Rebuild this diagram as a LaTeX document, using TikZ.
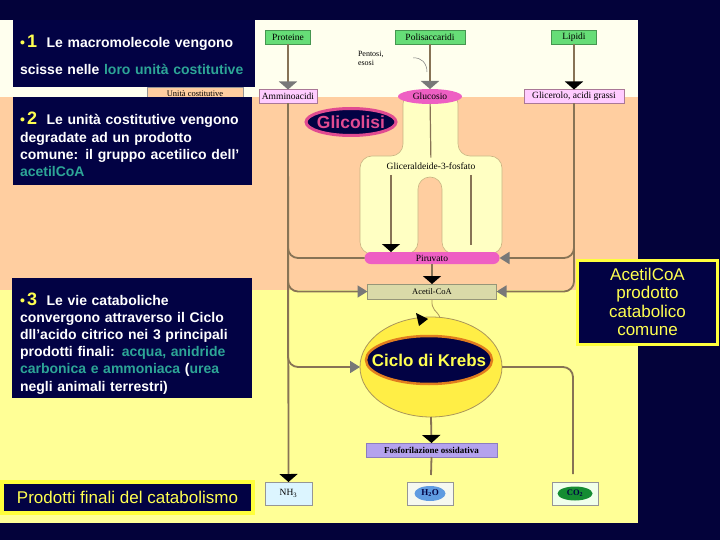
\documentclass[tikz,border=0pt]{standalone}
\usepackage{fontspec}
\setmainfont{Liberation Sans}
\newfontfamily\serifont{Liberation Serif}
\usetikzlibrary{arrows.meta,shapes.geometric}
\definecolor{navy}{RGB}{3,2,58}
\definecolor{boxnavy}{RGB}{2,2,68}
\definecolor{creamc}{RGB}{255,255,238}
\definecolor{peachc}{RGB}{255,206,160}
\definecolor{yellowc}{RGB}{255,255,150}
\definecolor{tealc}{RGB}{45,165,150}
\definecolor{txtyel}{RGB}{255,255,80}
\definecolor{prodyel}{RGB}{255,255,60}
\definecolor{linec}{RGB}{135,115,85}
\definecolor{arrgray}{RGB}{120,120,120}
\definecolor{greenc}{RGB}{102,221,119}
\definecolor{greendk}{RGB}{70,150,80}
\definecolor{pinkbox}{RGB}{255,204,255}
\definecolor{pinkdk}{RGB}{170,120,150}
\definecolor{magentac}{RGB}{238,95,195}
\definecolor{tubec}{RGB}{255,255,195}
\definecolor{tubeline}{RGB}{200,180,130}
\definecolor{khakic}{RGB}{218,218,168}
\definecolor{khakidk}{RGB}{150,150,120}
\definecolor{lavc}{RGB}{180,162,238}
\definecolor{lavdk}{RGB}{140,125,190}
\definecolor{krebsc}{RGB}{255,238,70}
\definecolor{krebsline}{RGB}{170,150,90}
\definecolor{orangec}{RGB}{225,125,30}
\definecolor{glicpink}{RGB}{225,75,145}
\definecolor{boxline}{RGB}{150,150,150}
\definecolor{nh3c}{RGB}{220,245,255}
\definecolor{h2oc}{RGB}{246,248,240}
\definecolor{cloudc}{RGB}{95,155,225}
\definecolor{co2bc}{RGB}{240,255,235}
\definecolor{co2c}{RGB}{20,140,50}

\begin{document}
\begin{tikzpicture}[x=1pt,y=-1pt,
	every node/.style={inner sep=0,outer sep=0},
	bigbox/.style={fill=boxnavy,anchor=north west},
	btext/.style={text=white,font=\bfseries\fontsize{14}{17.2}\selectfont,
		text width=235pt,align=left,anchor=base west},
	lbl/.style={font=\serifont\fontsize{9.5}{11}\selectfont},
	flow/.style={draw=linec,line width=1.8pt},
	downblk/.style={flow,-{Triangle[width=18pt,length=8pt,color=black]}},
	downgry/.style={flow,-{Triangle[width=18pt,length=8pt,color=arrgray]}},
	sidegry/.style={flow,rounded corners=10pt,-{Triangle[width=12pt,length=10pt,color=arrgray]}},
	endbox/.style={draw=boxline,fill=#1,minimum width=46pt,minimum height=23pt}]
\useasboundingbox (0,0) rectangle (720,540);
% backgrounds
\fill[navy] (0,0) rectangle (720,540);
\fill[creamc] (0,20) rectangle (638,97);
\fill[peachc] (0,97) rectangle (638,290);
\fill[yellowc] (0,290) rectangle (638,523);
\filldraw[fill=tubec,draw=tubeline,line width=0.6pt,rounded corners=12pt]
	(403,92) -- (403,156) -- (360,156) -- (360,254) -- (418,254) -- (418,177)
	-- (442,177) -- (442,254) -- (502,254) -- (502,156) -- (458,156) -- (458,92) -- cycle;

% diagram
\node[lbl,draw=greendk,fill=greenc,minimum width=45pt,minimum height=14pt] (prot) at (288,37) {Proteine};
\node[lbl,draw=greendk,fill=greenc,minimum width=70pt,minimum height=14pt] (polis) at (430,37) {Polisaccaridi};
\node[lbl,draw=greendk,fill=greenc,minimum width=45pt,minimum height=14pt] (lipidi) at (574,37) {Lipidi};
\node[lbl,draw=pinkdk,fill=pinkbox,minimum width=58pt,minimum height=14pt] (ammino) at (288,96.5) {Amminoacidi};
\node[lbl,ellipse,fill=magentac,minimum width=64pt,minimum height=15pt] (gluc) at (430,96.5) {Glucosio};
\node[lbl,draw=pinkdk,fill=pinkbox,minimum width=100pt,minimum height=14pt] (glic) at (574,96.5) {Glicerolo, acidi grassi};
\node[font=\serifont\fontsize{8}{8.5}\selectfont,text width=30pt,align=left,anchor=base west] (pentosi) at (358,57) {Pentosi,\\esosi};
\draw[arrgray,line width=0.5pt] (413,58) .. controls (421,57) and (427,63) .. (427,72);
\node[lbl,draw=boxline,fill=peachc,minimum width=96pt,minimum height=13pt,anchor=north west] (unita) at (147,87) {\fontsize{8.5}{10}\selectfont Unità costitutive};

\node[lbl,inner ysep=5pt] (g3p) at (431,166) {Gliceraldeide-3-fosfato};
\node[lbl,fill=magentac,rounded corners=6pt,minimum width=135pt,minimum height=12pt] (piru) at (432,258) {Piruvato};
\node[lbl,draw=khakidk,fill=khakic,minimum width=129pt,minimum height=15pt] (acoa) at (432,291.5) {\fontsize{8.5}{10}\selectfont Acetil-CoA};
\node[ellipse,draw=krebsline,line width=0.8pt,fill=krebsc,minimum width=142pt,minimum height=100pt] (kout) at (431,367) {};
\node[ellipse,draw=orangec,line width=2.5pt,fill=boxnavy,minimum width=126pt,minimum height=48pt] (krebs) at (429,360) {};
\node[text=txtyel,font=\bfseries\fontsize{17}{20}\selectfont] (krebslbl) at (krebs) {Ciclo di Krebs};
\node[font=\serifont\bfseries\fontsize{9}{10}\selectfont,draw=lavdk,fill=lavc,minimum width=131pt,minimum height=14pt] (fosfo) at (431.5,450) {Fosforilazione ossidativa};
\node[lbl,endbox=nh3c,minimum width=47pt] (nh3) at (288.5,493.5) {NH\textsubscript{3}};
\node[endbox=h2oc] (h2o) at (430,493.5) {};
\node[ellipse,fill=cloudc,minimum width=31pt,minimum height=15pt,font=\serifont\bfseries\fontsize{9}{10}\selectfont,text=boxnavy] (h2ob) at (h2o) {H\textsubscript{2}O};
\node[endbox=co2bc] (co2) at (575,493.5) {};
\node[ellipse,fill=co2c,minimum width=35pt,minimum height=14pt,font=\serifont\bfseries\fontsize{8.5}{10}\selectfont,text=boxnavy] (co2b) at (co2) {CO\textsubscript{2}};

\coordinate (legL) at (391,175);
\coordinate (legR) at (471,175);
\coordinate (legRend) at (471,245);
\coordinate (co2end) at (573,474);
\coordinate (h2oend) at (431,475);
\draw[downgry] (prot) -- (ammino);
\draw[downgry] (polis) -- (gluc);
\draw[downblk] (lipidi) -- (glic);
\draw[flow,line width=1.2pt] (gluc) -- (g3p);
\draw[downblk,line width=1.2pt] (legL) -- (legL |- piru.north);
\draw[flow,line width=1.2pt] (legR) -- (legRend);
\draw[downblk] (piru) -- (acoa);
\draw[krebsline,line width=0.8pt] (acoa.south) .. controls (431,311) and (437,310) .. (440,317.5);
\fill (416,313) -- (428,319) -- (419,326) -- cycle;
\draw[flow,rounded corners=10pt] (ammino.south) |- (piru.west);
\draw[sidegry] (ammino.south) |- (acoa.west);
\draw[sidegry] (ammino.south) |- (kout.west);
\draw[downblk] (ammino.south) -- (nh3.north);
\draw[sidegry] (glic.south) |- (piru.east);
\draw[sidegry] (glic.south) |- (acoa.east);
\draw[flow,rounded corners=10pt] (kout.east) -| (co2end);
\draw[downblk] (kout.south) -- (fosfo.north);
\draw[flow] (fosfo.south) -- (h2oend);

\node[ellipse,draw=glicpink,line width=3pt,fill=boxnavy,minimum width=90pt,minimum height=27pt] (glicol) at (351,122) {};
\node[text=glicpink,font=\bfseries\fontsize{17.5}{20}\selectfont] (glicollbl) at (glicol) {Glicolisi};

% text boxes
\node[bigbox,minimum width=242pt,minimum height=67pt] (box1) at (13,20) {};
\node[btext] (t1) at (20,48) {{\color{txtyel}•\,{\fontsize{18}{17}\selectfont 1}}\ \ Le macromolecole vengono\\[9.8pt]
	scisse nelle {\color{tealc}loro unità costitutive}};
\node[bigbox,minimum width=239pt,minimum height=88pt] (box2) at (13,97) {};
\node[btext] (t2) at (20,125) {{\color{txtyel}•\,{\fontsize{18}{17}\selectfont 2}}\ \ Le unità costitutive vengono\\
	degradate ad un prodotto\\
	comune: il gruppo acetilico dell’\\
	{\color{tealc}acetilCoA}};
\node[bigbox,minimum width=240pt,minimum height=120pt] (box3) at (12,278) {};
\node[btext] (t3) at (20,305) {{\color{txtyel}•\,{\fontsize{18}{17}\selectfont 3}}\ \ Le vie cataboliche\\
	convergono attraverso il Ciclo\\
	dll’acido citrico nei 3 principali\\
	prodotti finali: {\color{tealc}acqua, anidride}\\
	{\color{tealc}carbonica e ammoniaca} ({\color{tealc}urea}\\
	negli animali terrestri)};
\node[draw=prodyel,line width=4pt,fill=boxnavy,minimum width=251pt,minimum height=31pt,
	text=txtyel,font=\fontsize{17}{20}\selectfont] (prod) at (127.5,497) {Prodotti finali del catabolismo};
\node[draw=prodyel,line width=3pt,fill=boxnavy,minimum width=140pt,minimum height=84pt,
	text=txtyel,align=center,font=\fontsize{17}{18.4}\selectfont] (acbox) at (647.5,302) {AcetilCoA\\prodotto\\catabolico\\comune};
\end{tikzpicture}
\end{document}
